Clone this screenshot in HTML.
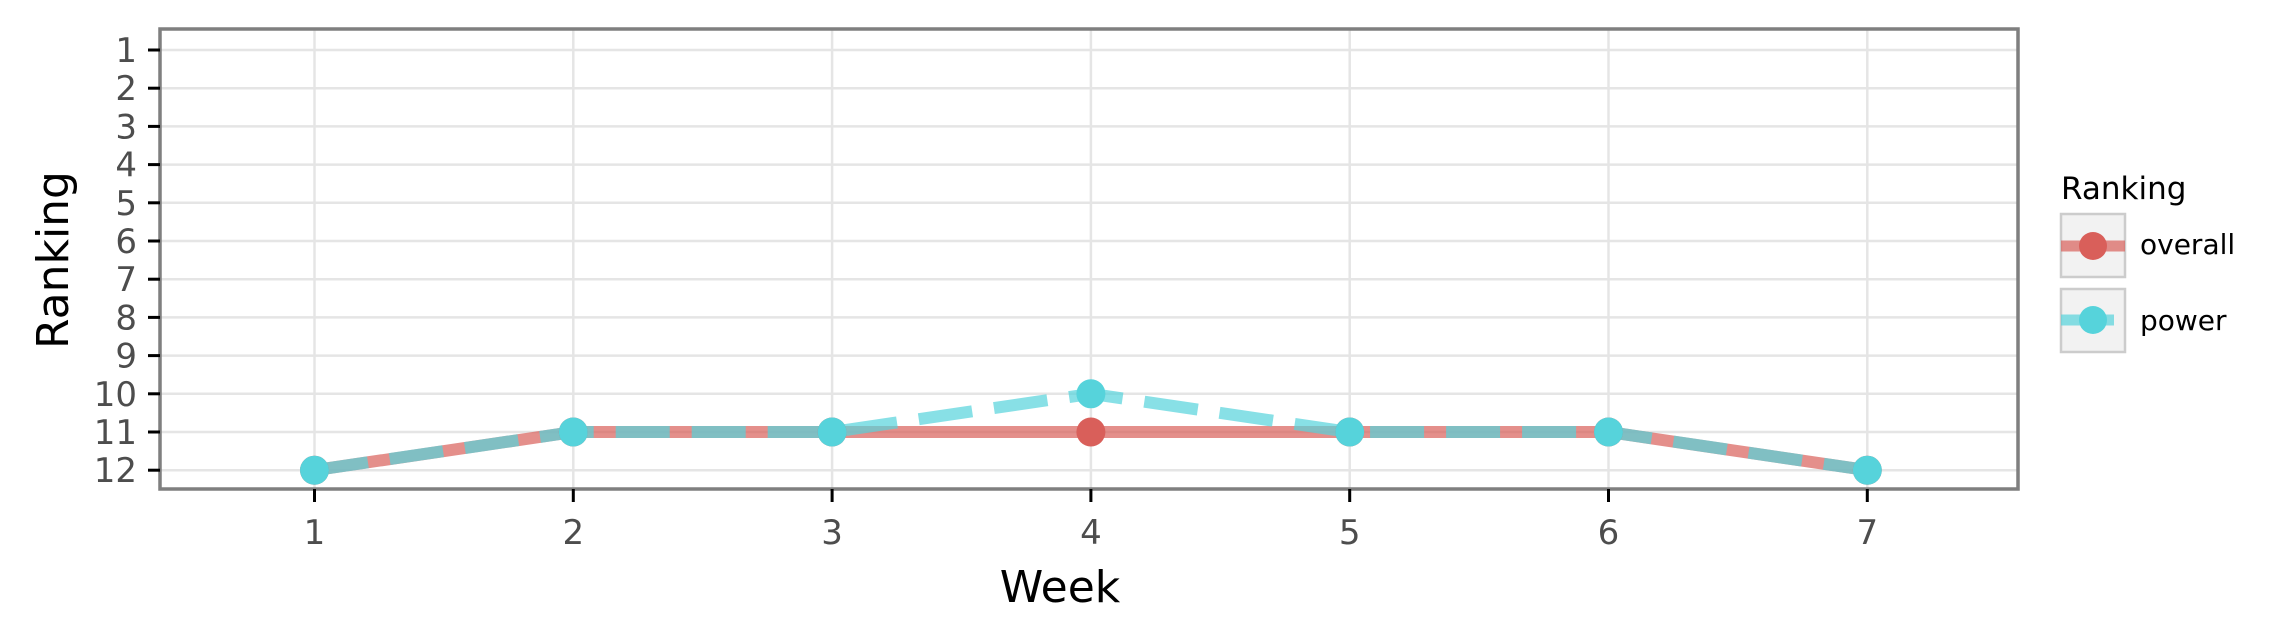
<!DOCTYPE html>
<html><head><meta charset="utf-8"><style>
html,body{margin:0;padding:0;background:#fff}
svg{display:block;font-family:"DejaVu Sans","Liberation Sans",sans-serif}
</style></head><body>
<svg id="chart" width="2276" height="642" viewBox="0 0 2276 642">
<g id="grid"></g>
<g id="series"></g>
<rect x="160" y="29" width="1858" height="460" fill="none" stroke="#7f7f7f" stroke-width="3.5"/>
<g id="axes"></g>
<text x="1060" y="602" font-size="44" text-anchor="middle" fill="#000">Week</text>
<text transform="translate(68,260) rotate(-90)" font-size="44" text-anchor="middle" fill="#000">Ranking</text>
<g>
<text x="2061" y="199" font-size="31" fill="#000">Ranking</text>
<g>
<rect x="2061" y="214" width="64" height="63" fill="#f2f2f2" stroke="#cccccc" stroke-width="2.5"/>
<line x1="2061" y1="246" x2="2125" y2="246" stroke="#d95f5a" stroke-opacity="0.7" stroke-width="11"/>
<circle cx="2093" cy="246" r="14" fill="#d95f5a"/>
<text x="2140" y="254" font-size="28" fill="#000">overall</text>
</g>
<g>
<rect x="2061" y="289" width="64" height="63" fill="#f2f2f2" stroke="#cccccc" stroke-width="2.5"/>
<line x1="2061" y1="320" x2="2114" y2="320" stroke="#56d3db" stroke-opacity="0.7" stroke-width="11"/>
<circle cx="2093" cy="320" r="14" fill="#56d3db"/>
<text x="2140" y="330" font-size="28" fill="#000">power</text>
</g>
</g>
</svg>
<script>
const weeks=[1,2,3,4,5,6,7];
const overall=[12,11,11,11,11,11,12];
const power=[12,11,11,10,11,11,12];
const yTicks=[1,2,3,4,5,6,7,8,9,10,11,12];
const xTicks=[1,2,3,4,5,6,7];
const NS="http://www.w3.org/2000/svg";
function xs(v){return 314.5+(v-1)*258.8;}
function ys(v){return 50+(v-1)*38.2;}
function mk(tag,attrs,parent){const e=document.createElementNS(NS,tag);for(const k in attrs)e.setAttribute(k,attrs[k]);parent.appendChild(e);return e;}
const grid=document.getElementById('grid'),axes=document.getElementById('axes'),series=document.getElementById('series');
xTicks.forEach(t=>{
 const g=mk('line',{x1:xs(t),x2:xs(t),y1:29,y2:489,stroke:'#e5e5e5','stroke-width':2.5},grid);
 
 
 const tk=mk('line',{x1:xs(t),x2:xs(t),y1:489,y2:502,stroke:'#000','stroke-width':3},axes);
 
 
 const tx=mk('text',{x:xs(t),y:544,'font-size':34,'text-anchor':'middle',fill:'#4d4d4d'},axes);
 tx.textContent=t;
 
 
});
yTicks.forEach(t=>{
 const g=mk('line',{x1:160,x2:2018,y1:ys(t),y2:ys(t),stroke:'#e5e5e5','stroke-width':2.5},grid);
 
 
 const tk=mk('line',{x1:148,x2:160,y1:ys(t),y2:ys(t),stroke:'#000','stroke-width':3},axes);
 
 
 const tx=mk('text',{x:137,y:ys(t)+12,'font-size':34,'text-anchor':'end',fill:'#4d4d4d'},axes);
 tx.textContent=t;
 
 
});
function pts(arr){return weeks.map((w,i)=>xs(w)+','+ys(arr[i])).join(' ');}
const l1=mk('polyline',{points:pts(overall),fill:'none',stroke:'#d95f5a','stroke-opacity':0.7,'stroke-width':12},series);


const l2=mk('polyline',{points:pts(power),fill:'none',stroke:'#56d3db','stroke-opacity':0.7,'stroke-width':12,'stroke-dasharray':'54 22'},series);


weeks.forEach((w,i)=>{
 const c=mk('circle',{cx:xs(w),cy:ys(overall[i]),r:14.5,fill:'#d95f5a'},series);
 
 
});
weeks.forEach((w,i)=>{
 const c=mk('circle',{cx:xs(w),cy:ys(power[i]),r:14.5,fill:'#56d3db'},series);
 
 
});
</script>
</body></html>
